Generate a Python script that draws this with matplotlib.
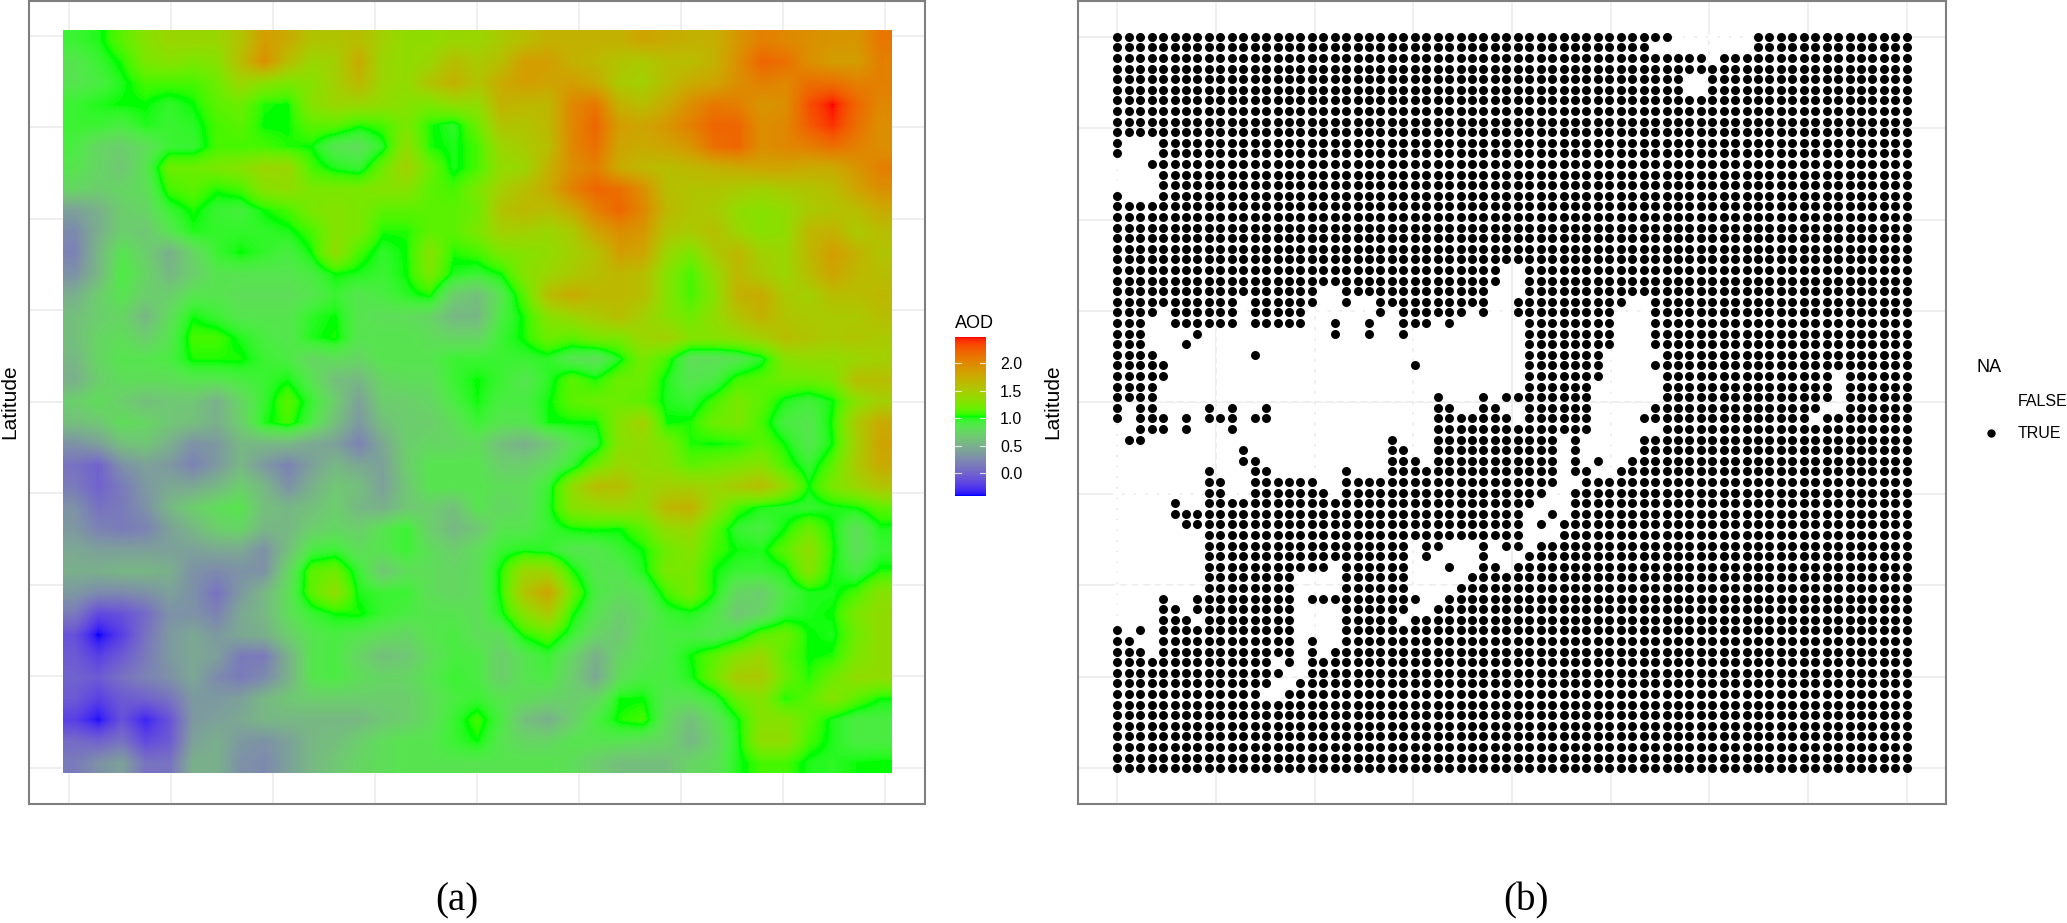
import numpy as np
import matplotlib
matplotlib.use("Agg")
import matplotlib.pyplot as plt
from matplotlib.colors import ListedColormap, Normalize

AOD_ROWS = [
    [.95,1.0,1.15,1.3,1.4,1.4,1.4,1.55,1.85,1.75,1.55,1.55,1.6,1.45,1.35,1.35,1.4,1.4,1.5,1.6,1.7,1.7,1.7,1.7,1.8,1.75,1.7,1.7,1.9,2.05,2.0,1.95,1.9,1.9,2.1],
    [.85,.95,1.05,1.25,1.3,1.25,1.3,1.6,1.95,1.6,1.4,1.45,1.75,1.4,1.35,1.4,1.6,1.5,1.6,1.85,1.85,1.7,1.65,1.55,1.5,1.6,1.6,1.7,1.95,2.2,2.15,1.95,1.85,1.85,2.05],
    [.85,.9,1.0,1.1,1.1,1.1,1.2,1.4,1.3,1.25,1.3,1.45,1.65,1.4,1.35,1.55,1.7,1.55,1.75,1.85,1.8,1.85,1.75,1.5,1.45,1.6,1.75,1.8,1.95,2.05,2.0,2.15,2.15,2.05,2.05],
    [.95,1.0,1.03,1.03,.97,1.03,1.15,1.2,1.05,1.03,1.3,1.4,1.4,1.35,1.3,1.25,1.35,1.35,1.7,1.65,1.65,2.0,2.1,1.7,1.6,1.75,1.95,2.1,2.05,1.9,1.95,2.3,2.47,2.2,2.0],
    [.95,.95,.9,1.0,.95,.98,1.1,1.15,1.03,1.03,1.15,1.15,1.05,1.1,1.25,1.05,.97,1.2,1.55,1.55,1.65,2.0,2.2,1.85,1.8,1.9,2.05,2.2,2.2,1.95,2.0,2.25,2.4,2.15,1.95],
    [.9,.75,.7,.8,.95,.95,1.1,1.1,1.1,1.05,1.03,.85,.8,.98,1.35,1.05,1.0,1.1,1.4,1.5,1.6,2.0,2.15,1.8,1.75,1.8,1.9,2.15,2.2,1.95,2.0,2.05,2.15,2.05,1.95],
    [.85,.75,.65,.85,1.2,1.2,1.25,1.3,1.4,1.4,1.1,1.0,.95,1.2,1.45,1.2,1.0,1.1,1.35,1.4,1.7,1.95,2.05,1.75,1.65,1.6,1.65,1.7,1.75,1.8,1.8,1.75,1.75,1.9,2.05],
    [.75,.7,.75,.8,1.1,1.15,1.05,1.1,1.3,1.35,1.25,1.25,1.25,1.3,1.3,1.15,1.1,1.25,1.45,1.6,1.75,2.05,2.2,2.15,1.95,1.6,1.55,1.55,1.5,1.45,1.5,1.55,1.6,1.8,1.95],
    [.4,.5,.7,.75,.95,1.05,.95,.92,1.03,1.1,1.25,1.3,1.25,1.15,1.15,1.15,1.15,1.2,1.55,1.65,1.6,1.75,2.05,2.2,2.0,1.65,1.55,1.5,1.35,1.3,1.35,1.5,1.55,1.6,1.75],
    [.25,.5,.7,.65,.85,1.0,.97,.97,.97,1.0,1.1,1.3,1.25,1.05,1.05,1.15,1.15,1.25,1.45,1.45,1.4,1.5,1.8,1.95,1.9,1.55,1.5,1.6,1.4,1.3,1.35,1.65,1.7,1.5,1.6],
    [.2,.55,.85,.7,.5,.75,.95,1.03,.97,.9,1.03,1.35,1.1,.97,1.03,1.3,1.05,1.1,1.25,1.3,1.35,1.45,1.55,1.85,1.8,1.4,1.25,1.5,1.65,1.45,1.4,1.65,1.85,1.7,1.55],
    [.3,.55,.9,.75,.55,.7,.85,.85,.85,.85,.9,1.03,1.0,.95,1.03,1.25,1.0,.95,1.03,1.3,1.4,1.5,1.6,1.65,1.6,1.3,1.1,1.35,1.65,1.5,1.4,1.6,1.8,1.65,1.6],
    [.5,.7,.85,.7,.7,.85,.85,.8,.8,.8,.85,.95,.85,.9,.98,1.05,.7,.6,.85,1.15,1.6,1.75,1.65,1.65,1.6,1.3,1.1,1.3,1.7,1.75,1.5,1.45,1.6,1.6,1.65],
    [.6,.7,.75,.55,.8,1.02,.95,.85,.85,.85,.98,1.03,.85,.8,.8,.75,.55,.55,.9,1.05,1.3,1.4,1.5,1.6,1.45,1.3,1.2,1.35,1.55,1.7,1.55,1.5,1.5,1.5,1.6],
    [.6,.75,.8,.7,.85,1.1,1.1,1.0,.9,.85,1.0,1.05,.85,.85,.85,.8,.75,.75,.95,1.05,1.2,1.15,1.25,1.25,1.4,1.45,1.3,1.3,1.35,1.45,1.6,1.55,1.5,1.55,1.5],
    [.55,.75,.85,.85,.9,1.05,1.05,1.05,.95,.9,.75,.8,.75,.85,.85,.85,.95,.95,.95,.95,.98,.85,.8,1.0,1.25,1.1,.8,.8,.85,.98,1.3,1.35,1.35,1.4,1.45],
    [.5,.7,.8,.8,.8,.85,.85,.9,.95,1.02,.85,.6,.55,.75,.8,.8,.95,1.03,.95,.85,.98,1.15,1.05,1.2,1.2,1.0,.85,.9,1.1,1.15,1.2,1.2,1.25,1.6,1.6],
    [.7,.8,.7,.6,.65,.65,.5,.75,.95,1.15,.95,.7,.4,.7,.7,.75,.9,1.02,.9,.9,1.02,1.15,1.2,1.2,1.15,1.0,.95,1.1,1.25,1.15,1.0,.92,1.02,1.3,1.45],
    [.6,.65,.8,.75,.65,.6,.5,.7,1.0,1.1,.9,.6,.35,.6,.7,.7,.8,.95,.85,.85,1.02,1.03,1.03,1.3,1.45,1.03,1.05,1.2,1.25,1.1,.9,.85,1.05,1.5,1.75],
    [.3,.4,.6,.65,.5,.3,.35,.55,.55,.55,.45,.4,.2,.45,.7,.75,.75,.8,.6,.5,.65,.85,.95,1.3,1.35,1.25,1.05,1.03,1.05,1.15,1.03,.85,1.03,1.45,1.8],
    [.1,.0,.3,.4,.35,.2,.35,.55,.35,.2,.4,.55,.45,.4,.7,.85,.85,.85,.7,.7,.8,.95,1.2,1.4,1.35,1.3,1.15,1.2,1.25,1.3,1.1,.95,1.15,1.5,1.75],
    [.15,.0,.15,.35,.45,.45,.55,.7,.55,.3,.5,.65,.6,.4,.65,.85,.85,.85,.8,.8,.95,1.35,1.6,1.6,1.4,1.45,1.45,1.4,1.5,1.6,1.35,1.03,1.25,1.4,1.55],
    [.3,.1,.15,.3,.55,.7,.8,.85,.6,.55,.6,.7,.55,.5,.65,.7,.6,.85,.75,.8,.98,1.3,1.35,1.4,1.35,1.65,1.7,1.35,1.1,1.0,.97,.95,1.0,1.03,1.15],
    [.35,.2,.15,.2,.4,.55,.7,.75,.55,.55,.7,.75,.7,.85,.95,.7,.55,.65,.85,.85,.95,1.03,1.05,1.03,1.15,1.35,1.4,1.15,.95,.9,1.03,1.2,1.03,.8,1.0],
    [.45,.4,.4,.4,.4,.4,.45,.45,.3,.6,.9,.95,.8,.85,.95,.8,.7,.8,.95,1.0,.97,.85,.85,.95,1.03,1.2,1.3,1.1,1.02,1.0,1.15,1.35,1.05,.8,.95],
    [.5,.5,.55,.55,.5,.3,.25,.3,.3,.75,1.15,1.2,.95,.65,.8,.8,.75,.8,1.05,1.4,1.4,1.05,.85,.85,1.0,1.25,1.25,1.03,.95,.95,1.0,1.3,1.02,.9,1.05],
    [.35,.25,.25,.3,.4,.3,.1,.35,.55,.8,1.15,1.35,1.0,.95,.95,.8,.75,.8,1.05,1.55,1.8,1.2,.9,.8,.85,1.1,1.25,1.03,.75,.7,.9,1.0,1.0,1.1,1.3],
    [.15,-.15,-.1,.05,.3,.3,.2,.45,.55,.8,.95,1.03,1.05,.95,.9,.85,.85,.8,1.0,1.3,1.5,1.05,.85,.7,.8,.95,1.0,.9,.65,.75,.95,1.0,1.03,1.25,1.35],
    [-.1,-.41,-.2,.1,.35,.45,.35,.45,.5,.7,.85,.9,.85,.8,.75,.85,.9,.8,.8,1.05,1.15,.95,.75,.65,.85,.9,.9,.85,.95,1.15,1.2,1.03,1.0,1.2,1.35],
    [-.05,-.2,-.05,.15,.35,.45,.4,.15,.15,.5,.85,.9,.75,.6,.65,.8,.9,.9,.7,.85,.95,.75,.5,.75,.85,.9,1.03,1.15,1.3,1.4,1.15,1.03,1.05,1.25,1.35],
    [.0,-.05,.1,.2,.3,.45,.25,.15,.25,.5,.85,.9,.8,.75,.75,.85,.95,.9,.7,.85,.9,.7,.45,.8,.9,.9,1.0,1.2,1.5,1.5,1.2,1.05,1.2,1.35,1.35],
    [-.05,-.2,-.05,.0,.1,.35,.35,.4,.55,.65,.7,.7,.7,.7,.7,.8,.9,.95,.85,.8,.75,.7,.75,1.02,1.03,.85,.85,.95,1.2,1.3,1.05,1.15,1.3,1.15,1.03],
    [-.2,-.38,-.1,-.32,-.1,.35,.4,.45,.55,.55,.55,.55,.55,.65,.7,.8,.95,1.1,.9,.6,.5,.7,.9,1.05,1.1,.8,.6,.8,1.02,1.3,1.3,1.15,1.0,.9,.9],
    [.05,.0,.1,-.15,-.05,.4,.5,.35,.3,.4,.55,.6,.7,.8,.85,.85,.95,1.03,.85,.75,.75,.85,.85,.85,.8,.75,.55,.75,1.0,1.35,1.35,1.1,1.0,.9,.9],
    [.15,.3,.4,.1,.1,.5,.5,.3,.25,.4,.55,.65,.75,.8,.85,.85,.85,.85,.85,.85,.85,.8,.7,.6,.6,.6,.75,.8,1.0,1.1,1.1,1.0,.98,1.02,1.03],
]

# panel (b): first and last column of each run without a value, by row from the top
NA_GAPS = {
    0: [(49, 55)], 1: [(47, 55)], 2: [(52, 52)], 4: [(50, 51)], 5: [(50, 51)],
    10: [(1, 3)], 11: [(1, 3)], 12: [(0, 2)], 13: [(0, 3)], 14: [(0, 3)], 15: [(1, 3)],
    22: [(34, 35)], 23: [(34, 35)],
    24: [(18, 19), (33, 35)],
    25: [(11, 11), (18, 19), (21, 22), (33, 34), (45, 46)],
    26: [(4, 4), (11, 11), (17, 22), (24, 24), (31, 31), (33, 34), (44, 46)],
    27: [(3, 4), (11, 11), (17, 18), (20, 21), (23, 24), (28, 28), (30, 35), (44, 46)],
    28: [(3, 6), (8, 18), (20, 21), (23, 24), (26, 35), (44, 46)],
    29: [(3, 5), (7, 35), (44, 46)],
    30: [(4, 11), (13, 35), (43, 47)],
    31: [(5, 25), (27, 35), (43, 46)],
    32: [(5, 35), (43, 47), (63, 63)],
    33: [(4, 35), (42, 47), (63, 63)],
    34: [(4, 27), (29, 31), (33, 33), (42, 47), (63, 63)],
    35: [(1, 1), (4, 7), (9, 9), (11, 12), (14, 27), (30, 31), (34, 35), (42, 46), (62, 63)],
    36: [(1, 1), (5, 5), (7, 7), (11, 11), (14, 27), (35, 35), (42, 45), (61, 61)],
    37: [(0, 1), (5, 5), (7, 9), (11, 27), (42, 47)],
    38: [(0, 0), (3, 23), (25, 27), (39, 39), (41, 45)],
    39: [(0, 10), (12, 23), (26, 27), (39, 39), (41, 45)],
    40: [(0, 10), (13, 23), (27, 27), (39, 39), (41, 41), (43, 44)],
    41: [(0, 7), (9, 11), (14, 19), (21, 23), (39, 39), (42, 43)],
    42: [(0, 7), (10, 11), (18, 19), (39, 40)],
    43: [(0, 7), (10, 11), (19, 19), (38, 39)],
    44: [(0, 4), (6, 7), (37, 39)],
    45: [(0, 4), (36, 37), (39, 39)],
    46: [(0, 5), (36, 36), (38, 38)],
    47: [(0, 7), (36, 38)],
    48: [(0, 7), (26, 26), (29, 31), (33, 33), (36, 36)],
    49: [(0, 7), (26, 26), (28, 31), (33, 35)],
    50: [(0, 7), (19, 19), (26, 28), (30, 31), (34, 34)],
    51: [(0, 7), (16, 19), (26, 30)],
    52: [(0, 7), (16, 19), (26, 29)],
    53: [(0, 3), (5, 6), (16, 16), (27, 28)],
    54: [(0, 3), (6, 6), (16, 19), (26, 27)],
    55: [(0, 3), (7, 7), (16, 19), (25, 25)],
    56: [(1, 1), (3, 3), (16, 19)],
    57: [(2, 3), (16, 16), (18, 19)],
    58: [(3, 3), (16, 16), (18, 18)],
    59: [(14, 14), (16, 16)],
    60: [(15, 16)],
    61: [(14, 15)],
    62: [(13, 14)],
}

AOD_TICKS = [0.0, 0.5, 1.0, 1.5, 2.0]
AOD_MIN = -0.41
AOD_MAX = 2.47
N_CELLS = 70

W, H = 2067, 923
GRID = "#ebebeb"
BORDER = "#7f7f7f"
SANS = "Liberation Sans"
SERIF = "Liberation Serif"


def px_axes(fig, x0, y0, x1, y1):
    return fig.add_axes([x0 / W, 1 - y1 / H, (x1 - x0) / W, (y1 - y0) / H])


def rgb_to_lab(rgb):
    c = np.array(rgb, dtype=float)
    c = np.where(c > 0.04045, ((c + 0.055) / 1.055) ** 2.4, c / 12.92)
    m = np.array([[0.4124, 0.3576, 0.1805], [0.2126, 0.7152, 0.0722], [0.0193, 0.1192, 0.9505]])
    xyz = m @ c / np.array([0.9505, 1.0, 1.089])
    f = np.where(xyz > 0.008856, np.cbrt(xyz), 7.787 * xyz + 16 / 116)
    return np.array([116 * f[1] - 16, 500 * (f[0] - f[1]), 200 * (f[1] - f[2])])


def lab_to_rgb(lab):
    fy = (lab[0] + 16) / 116
    f = np.array([fy + lab[1] / 500, fy, fy - lab[2] / 200])
    xyz = np.where(f > 0.2069, f ** 3, (f - 16 / 116) / 7.787) * np.array([0.9505, 1.0, 1.089])
    m = np.array([[3.2406, -1.5372, -0.4986], [-0.9689, 1.8758, 0.0415], [0.0557, -0.2040, 1.0570]])
    c = np.clip(m @ xyz, 0, 1)
    return np.where(c > 0.0031308, 1.055 * c ** (1 / 2.4) - 0.055, 12.92 * c)


def lab_cmap(colors, n=128):
    labs = [rgb_to_lab(c) for c in colors]
    out = []
    for a, b in zip(labs[:-1], labs[1:]):
        for t in np.linspace(0, 1, n):
            out.append(lab_to_rgb(a + (b - a) * t))
    return ListedColormap(out)


def style_panel(ax, xlim, ylim):
    ax.set_xlim(*xlim)
    ax.set_ylim(*ylim)
    ax.set_xticks(np.linspace(0, N_CELLS - 1, 9))
    ax.set_yticks(np.linspace(0, N_CELLS - 1, 9))
    ax.set_xticklabels([])
    ax.set_yticklabels([])
    ax.tick_params(length=0)
    ax.grid(True, color=GRID, linewidth=1.1)
    ax.set_axisbelow(True)
    for s in ax.spines.values():
        s.set_color(BORDER)
        s.set_linewidth(1.5)


def main():
    fig = plt.figure(figsize=(W / 100, H / 100), dpi=100)
    cmap = lab_cmap([(0, 0, 1), (0, 1, 0), (1, 0, 0)])
    norm = Normalize(AOD_MIN, AOD_MAX)

    # panel (a)
    ax = px_axes(fig, 29, 1, 925, 804)
    style_panel(ax, (-3.35, 72.37), (72.4, -3.3))
    im = ax.imshow(np.array(AOD_ROWS), cmap=cmap, norm=norm, aspect="auto",
                   interpolation="bilinear", extent=(-0.5, 69.5, 69.5, -0.5), zorder=2)
    ax.set_xlim(-3.35, 72.37)
    ax.set_ylim(72.4, -3.3)
    fig.text(10 / W, 1 - 402 / H, "Latitude", rotation=90, family=SANS, fontsize=15,
             ha="center", va="center")

    # colour bar
    cax = px_axes(fig, 955, 337, 986, 496)
    cb = fig.colorbar(im, cax=cax)
    cb.outline.set_visible(False)
    cb.set_ticks(AOD_TICKS)
    cb.set_ticklabels([f"{t:.1f}" for t in AOD_TICKS], family=SANS, fontsize=11.5)
    cax.tick_params(length=0, pad=10)
    for t in AOD_TICKS:
        cax.plot([0, 0.2], [t, t], color="white", lw=0.8, alpha=0.8, transform=cax.get_yaxis_transform())
        cax.plot([0.8, 1], [t, t], color="white", lw=0.8, alpha=0.8, transform=cax.get_yaxis_transform())
    fig.text(955 / W, 1 - 323 / H, "AOD", family=SANS, fontsize=13, ha="left", va="center")

    # panel (b)
    has_value = np.ones((N_CELLS, N_CELLS), dtype=bool)
    for row, gaps in NA_GAPS.items():
        for first, last in gaps:
            has_value[row, first:last + 1] = False
    rows, cols = np.indices(has_value.shape)

    bx = px_axes(fig, 1078, 1, 1946, 804)
    style_panel(bx, (-3.44, 72.43), (72.38, -3.37))
    bx.scatter(cols[~has_value], rows[~has_value], s=42, color="white", linewidths=0, zorder=2)
    bx.scatter(cols[has_value], rows[has_value], s=42, color="black", linewidths=0, zorder=3)
    fig.text(1053 / W, 1 - 402 / H, "Latitude", rotation=90, family=SANS, fontsize=15,
             ha="center", va="center")

    # legend of panel (b)
    fig.text(1976 / W, 1 - 367 / H, "NA", family=SANS, fontsize=13, ha="left", va="center")
    fig.text(2018 / W, 1 - 402 / H, "FALSE", family=SANS, fontsize=11.5, ha="left", va="center")
    fig.text(2018 / W, 1 - 433 / H, "TRUE", family=SANS, fontsize=11.5, ha="left", va="center")
    lx = fig.add_axes([0, 0, 1, 1], facecolor="none")
    lx.set_axis_off()
    lx.set_xlim(0, W)
    lx.set_ylim(H, 0)
    lx.scatter([1991], [433], s=36, color="black", linewidths=0)

    fig.text(457 / W, 1 - 901 / H, "(a)", family=SERIF, fontsize=28, ha="center", va="center")
    fig.text(1526 / W, 1 - 901 / H, "(b)", family=SERIF, fontsize=28, ha="center", va="center")

    fig.savefig("out.png", dpi=100)


if __name__ == "__main__":
    main()
